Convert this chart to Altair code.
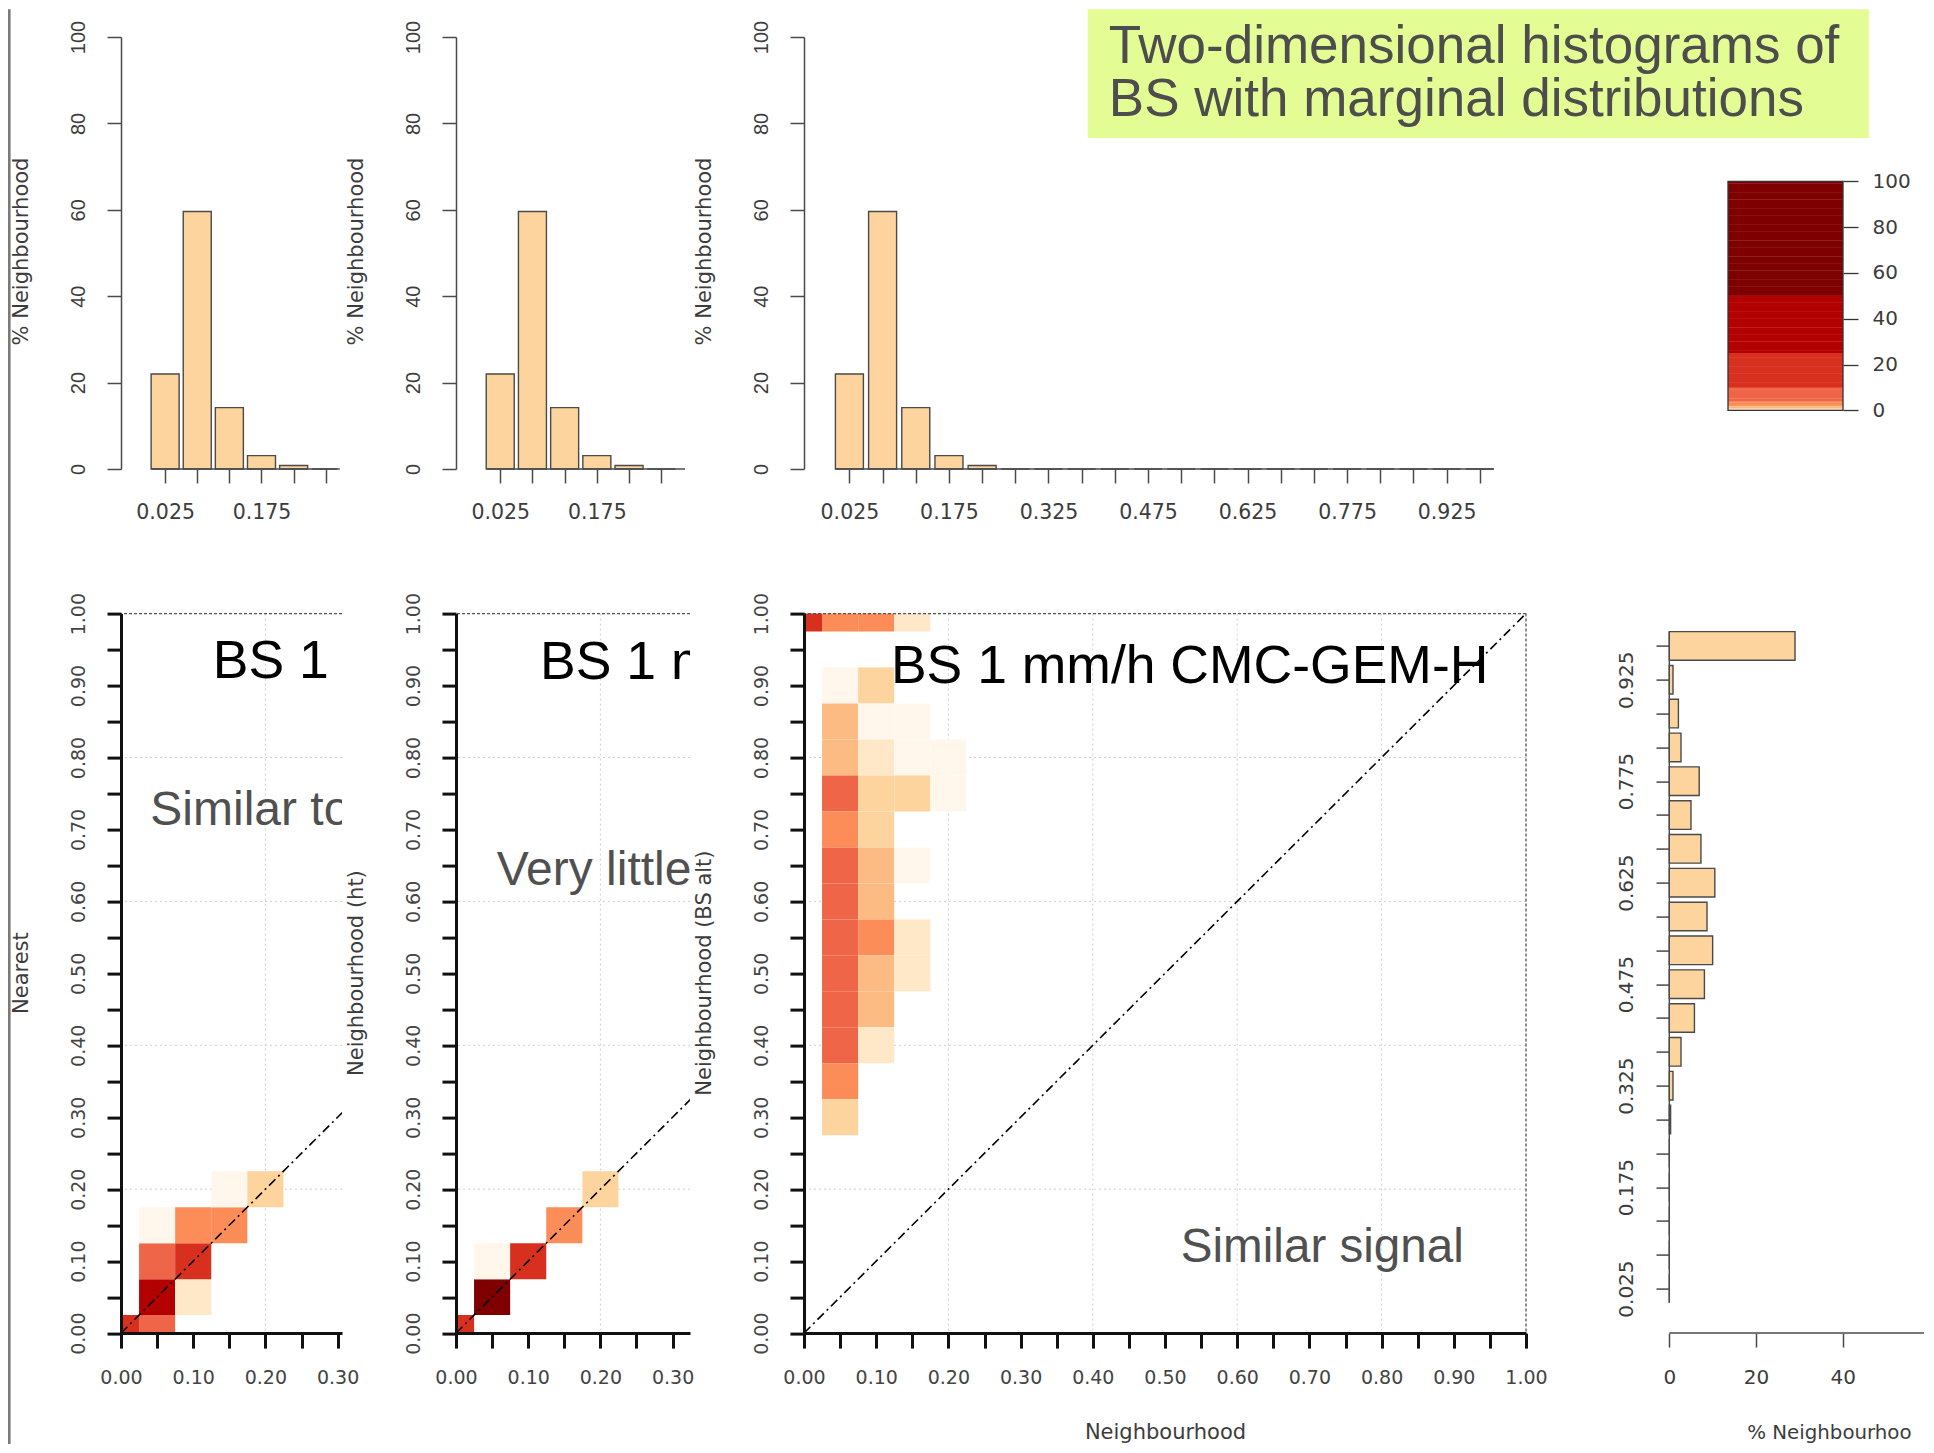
import json
import altair as alt
import pandas as pd

# ---------------- data ----------------
BIN_CENTERS = [0.025, 0.075, 0.125, 0.175, 0.225, 0.275, 0.325, 0.375, 0.425, 0.475,
               0.525, 0.575, 0.625, 0.675, 0.725, 0.775, 0.825, 0.875, 0.925, 0.975]
BIN_TICK_LABELS = ["0.025", "0.175", "0.325", "0.475", "0.625", "0.775", "0.925"]
TOP_PCT = [22.0, 59.6, 14.2, 3.1, 0.8, 0, 0, 0, 0, 0, 0, 0, 0, 0, 0, 0, 0, 0, 0, 0]
RIGHT_PCT = [0, 0, 0, 0, 0, 0.3, 0.85, 2.7, 5.8, 8.1, 10.0, 8.7, 10.5, 7.3, 5.0, 6.9, 2.7, 2.1, 0.85, 29.0]
TOP_Y_TICKS = [0, 20, 40, 60, 80, 100]
RIGHT_X_TICKS = [0, 20, 40]
CB_TICKS = [0, 20, 40, 60, 80, 100]
HEAT_TICKS = [0.00, 0.05, 0.10, 0.15, 0.20, 0.25, 0.30, 0.35, 0.40, 0.45, 0.50,
              0.55, 0.60, 0.65, 0.70, 0.75, 0.80, 0.85, 0.90, 0.95, 1.00]
GRID_VALS = [0.2, 0.4, 0.6, 0.8]
DIAG = [0.0, 1.0]

BREAKS = [0.25, 0.5, 1, 2, 4, 10, 25, 50]
ORRD = ["#fff7ec", "#fee8c8", "#fdd49e", "#fdbb84", "#fc8d59",
        "#ef6548", "#d7301f", "#b30000", "#7f0000"]
# colour-bar stripes (legend only): fine steps at the low end, unit steps above
CB_LO = [i * 0.25 for i in range(16)] + [float(v) for v in range(4, 100)]
CB_HI = CB_LO[1:] + [100.0]

# 2-D histogram cells: bin centre on x, bin centre on y, percent
P1_X = [0.00, 0.05, 0.05, 0.10, 0.05, 0.10, 0.05, 0.10, 0.15, 0.15, 0.20]
P1_Y = [0.00, 0.00, 0.05, 0.05, 0.10, 0.10, 0.15, 0.15, 0.15, 0.20, 0.20]
P1_PCT = [20, 8, 40, 0.4, 7, 15, 0.15, 3, 3, 0.15, 0.8]

P2_X = [0.00, 0.05, 0.05, 0.10, 0.15, 0.20]
P2_Y = [0.00, 0.05, 0.10, 0.10, 0.15, 0.20]
P2_PCT = [15, 60, 0.2, 18, 3.5, 0.8]

P3_X = [0.00, 0.05, 0.10, 0.15,
        0.05, 0.10,
        0.05, 0.10, 0.15,
        0.05, 0.10, 0.15, 0.20,
        0.05, 0.10, 0.15, 0.20,
        0.05, 0.10,
        0.05, 0.10, 0.15,
        0.05, 0.10,
        0.05, 0.10, 0.15,
        0.05, 0.10, 0.15,
        0.05, 0.10,
        0.05, 0.10,
        0.05,
        0.05]
P3_Y = [1.00, 1.00, 1.00, 1.00,
        0.90, 0.90,
        0.85, 0.85, 0.85,
        0.80, 0.80, 0.80, 0.80,
        0.75, 0.75, 0.75, 0.75,
        0.70, 0.70,
        0.65, 0.65, 0.65,
        0.60, 0.60,
        0.55, 0.55, 0.55,
        0.50, 0.50, 0.50,
        0.45, 0.45,
        0.40, 0.40,
        0.35,
        0.30]
P3_PCT = [18, 3.5, 3.5, 0.4,
          0.15, 0.7,
          1.5, 0.15, 0.15,
          1.5, 0.3, 0.15, 0.15,
          5, 0.7, 0.7, 0.15,
          3, 0.7,
          6, 1.5, 0.15,
          7, 1.5,
          7, 2.5, 0.3,
          7, 1.5, 0.3,
          6, 1.5,
          5, 0.3,
          2.5,
          0.7]

TITLE_LINES = ["Two-dimensional histograms of", "BS with marginal distributions"]
PANEL_TITLE = "BS 1 mm/h CMC-GEM-H"
NOTES = ["Similar to", "Very little", "Similar signal"]
Y_TITLES = ["Nearest", "Neighbourhood (ht)", "Neighbourhood (BS alt)"]
X_TITLE = "Neighbourhood"
HIST_TITLE = "% Neighbourhood"
RIGHT_X_TITLE = "% Neighbourhoo"

# ---------------- styling / layout ----------------
TICK_FONT = "DejaVu Sans"
SANS = "Liberation Sans"
INK = "#3c3c3c"
NOTE_INK = "#505050"
EDGE = "#4a4a4a"
AX = "#111111"
BAR_FILL = "#FDD49E"
TITLE_SIZE = 21

W1, W2, W3 = 221, 234, 722
W_CB, W_RH = 203, 284
H_TOP, H_BOT = 432, 719.5

PX_TOP = 672.9
TOP_X0 = -0.0359
HALF_BAR = 14 / PX_TOP
PX_HEAT = float(W3)

RH_PX = 4.335
RH_X0 = -29.3 / RH_PX
RH_XMAX = RH_X0 + W_RH / RH_PX
RH_Y1 = 1.0154
RH_Y0 = RH_Y1 - H_BOT / 686.0
RH_HALF = 14.3 / 686.0

COLOR_SCALE = alt.Scale(type="threshold", domain=BREAKS, range=ORRD)
ONE = pd.DataFrame({"k": [0]})

bin_expr = ("indexof(%s, format(datum.value, '.3f')) >= 0 ? format(datum.value, '.3f') : ''"
            % json.dumps(BIN_TICK_LABELS))
heat_expr = "round(datum.value * 100) % 10 == 0 ? format(datum.value, '.2f') : ''"


def top_hist(width, extra=()):
    xmax = TOP_X0 + width / PX_TOP
    idx = [i for i, c in enumerate(BIN_CENTERS) if c < xmax]
    df = pd.DataFrame({"c": [BIN_CENTERS[i] for i in idx], "pct": [TOP_PCT[i] for i in idx]})
    xs = alt.Scale(domain=[TOP_X0, xmax], nice=False, zero=False)
    ys = alt.Scale(domain=[0, 100], nice=False, zero=False)
    xaxis = alt.Axis(values=list(df["c"]), labelExpr=bin_expr, domain=False, grid=False,
                     tickSize=14, tickWidth=1.5, tickColor=EDGE, labelFont=TICK_FONT,
                     labelFontSize=20.5, labelColor=INK, labelPadding=29, labelAngle=0,
                     labelAlign="center", labelBaseline="middle", labelFlush=False,
                     labelOverlap=False, title=None)
    yaxis = alt.Axis(values=TOP_Y_TICKS, domain=True, domainColor=EDGE, domainWidth=1.5, grid=False,
                     tickSize=14, tickWidth=1.5, tickColor=EDGE, labelFont=SANS, labelFontSize=20,
                     labelColor=INK, labelPadding=29, labelAngle=270, labelAlign="center",
                     labelBaseline="middle", labelFlush=False, labelOverlap=False,
                     title=HIST_TITLE, titleX=-100, titleY=214, titleAngle=270, titleAlign="center",
                     titleBaseline="middle", titleFont=TICK_FONT, titleFontSize=TITLE_SIZE,
                     titleFontWeight="normal", titleColor=INK)
    bars = alt.Chart(df).mark_bar(orient="vertical", size=28, fill=BAR_FILL, stroke=EDGE,
                                  strokeWidth=1.4).encode(
        x=alt.X("c:Q", scale=xs, axis=xaxis),
        y=alt.Y("pct:Q", scale=ys, axis=yaxis),
        y2=alt.datum(0))
    base = alt.Chart(pd.DataFrame({"a": [BIN_CENTERS[0] - HALF_BAR],
                                   "b": [min(xmax, BIN_CENTERS[-1] + HALF_BAR)]})).mark_rule(
        color=EDGE, strokeWidth=1.4).encode(
        x=alt.X("a:Q", scale=xs, axis=xaxis), x2="b:Q", y=alt.datum(0))
    return alt.layer(bars, base, *extra).properties(width=width, height=H_TOP)


def heat(xs_, ys_, vals, width, ytitle, xtitle, texts, right_border=False):
    xmax = width / PX_HEAT
    xsc = alt.Scale(domain=[0, xmax], nice=False, zero=False)
    ysc = alt.Scale(domain=[0, 1], nice=False, zero=False)
    xvals = [v for v in HEAT_TICKS if v <= xmax + 1e-9]
    common = dict(domain=True, domainWidth=3, domainColor=AX, grid=False, tickWidth=3,
                  tickColor=AX, labelFont=TICK_FONT, labelFontSize=19, labelColor="#444444",
                  labelFlush=False, labelOverlap=False, labelExpr=heat_expr, zindex=1,
                  titleFont=TICK_FONT, titleFontSize=TITLE_SIZE, titleFontWeight="normal",
                  titleColor=INK)
    if xtitle:
        xaxis = alt.Axis(values=xvals, tickSize=15, labelPadding=29, labelAngle=0,
                         labelAlign="center", labelBaseline="middle", title=xtitle,
                         titleX=width / 2, titleY=99, titleAlign="center",
                         titleBaseline="middle", **common)
    else:
        xaxis = alt.Axis(values=xvals, tickSize=15, labelPadding=29, labelAngle=0,
                         labelAlign="center", labelBaseline="middle", title=None, **common)
    yaxis = alt.Axis(values=HEAT_TICKS, tickSize=14, labelPadding=29, labelAngle=270,
                     labelAlign="center", labelBaseline="middle", title=ytitle, titleX=-100,
                     titleY=359, titleAngle=270, titleAlign="center", titleBaseline="middle",
                     **common)
    df = pd.DataFrame({"x": xs_, "y": ys_, "pct": vals})
    hgrid = alt.Chart(pd.DataFrame({"g": GRID_VALS})).mark_rule(
        clip=True, color="#cfcfcf", strokeDash=[2, 3], strokeWidth=1).encode(
        y=alt.Y("g:Q", scale=ysc, axis=yaxis))
    vgrid = alt.Chart(pd.DataFrame({"g": [g for g in GRID_VALS if g < xmax]})).mark_rule(
        clip=True, color="#cfcfcf", strokeDash=[2, 3], strokeWidth=1).encode(
        x=alt.X("g:Q", scale=xsc, axis=xaxis))
    cells = alt.Chart(df).transform_calculate(
        xa="datum.x - 0.025", xb="datum.x + 0.025",
        ya="datum.y - 0.025", yb="datum.y + 0.025").mark_rect(clip=True).encode(
        x=alt.X("xa:Q", scale=xsc, axis=xaxis), x2="xb:Q",
        y=alt.Y("ya:Q", scale=ysc, axis=yaxis), y2="yb:Q",
        color=alt.Color("pct:Q", scale=COLOR_SCALE, legend=None))
    top = alt.Chart(pd.DataFrame({"g": [1.0]})).mark_rule(
        color="#555555", strokeDash=[3, 2], strokeWidth=1.3).encode(
        y=alt.Y("g:Q", scale=ysc, axis=yaxis))
    diag = alt.Chart(pd.DataFrame({"d": DIAG})).mark_line(
        clip=True, color="black", strokeWidth=1.6, strokeDash=[9, 4, 2, 4]).encode(
        x=alt.X("d:Q", scale=xsc, axis=xaxis), y=alt.Y("d:Q", scale=ysc, axis=yaxis))
    layers = [hgrid, vgrid, cells, top, diag]
    if right_border:
        layers.append(alt.Chart(pd.DataFrame({"g": [1.0]})).mark_rule(
            color="#555555", strokeDash=[3, 2], strokeWidth=1.3).encode(
            x=alt.X("g:Q", scale=xsc, axis=xaxis)))
    for txt, xpx, ypx, size, col in texts:
        layers.append(alt.Chart(pd.DataFrame({"t": [txt]})).mark_text(
            clip=True, align="left", baseline="alphabetic", font=SANS, fontSize=size,
            color=col).encode(x=alt.value(xpx), y=alt.value(ypx), text="t:N"))
    return alt.layer(*layers).properties(width=width, height=H_BOT)


# ---- top row ----
gray_edge = alt.Chart(ONE).mark_rule(color="#7a7a7a", strokeWidth=2.6).encode(
    x=alt.value(-111.7), y=alt.value(-27.7), y2=alt.value(1407))
title_box = alt.Chart(ONE).mark_rect(fill="#E4FC94").encode(
    x=alt.value(283.8), x2=alt.value(1064.8), y=alt.value(-27.7), y2=alt.value(101))
title_l1 = alt.Chart(pd.DataFrame({"t": [TITLE_LINES[0]]})).mark_text(
    align="left", baseline="alphabetic", font=SANS, fontSize=53, color="#4d4d4d").encode(
    x=alt.value(304.8), y=alt.value(26), text="t:N")
title_l2 = alt.Chart(pd.DataFrame({"t": [TITLE_LINES[1]]})).mark_text(
    align="left", baseline="alphabetic", font=SANS, fontSize=53, color="#4d4d4d").encode(
    x=alt.value(304.8), y=alt.value(79.3), text="t:N")

p1top = top_hist(W1, extra=[gray_edge])
p2top = top_hist(W2)
p3top = top_hist(W3, extra=[title_box, title_l1, title_l2])

cb_df = pd.DataFrame({"lo": CB_LO, "hi": CB_HI})
cb_scale = alt.Scale(domain=[0, 100], range=[373.3, 144.3], nice=False, zero=False)
cb_axis = alt.Axis(orient="right", values=CB_TICKS, domain=False, grid=False, tickSize=15,
                   tickWidth=1.3, tickColor="#333333", labelFont=TICK_FONT, labelFontSize=20,
                   labelColor=INK, labelPadding=14, labelAlign="left", labelBaseline="middle",
                   labelFlush=False, labelOverlap=False, title=None)
cb_rects = alt.Chart(cb_df).transform_calculate(
    top="min(datum.hi + 0.2, 100)", mid="(datum.lo + datum.hi) / 2").mark_rect().encode(
    x=alt.value(88), x2=alt.value(W_CB),
    y=alt.Y("lo:Q", scale=cb_scale, axis=cb_axis), y2="top:Q",
    color=alt.Color("mid:Q", scale=COLOR_SCALE, legend=None))
cb_frame = alt.Chart(ONE).mark_rect(fillOpacity=0, stroke="#333333", strokeWidth=1.3).encode(
    x=alt.value(88), x2=alt.value(W_CB), y=alt.datum(0), y2=alt.datum(100))
cbar = alt.layer(cb_rects, cb_frame).properties(width=W_CB, height=H_TOP)

# ---- bottom row ----
p1bot = heat(P1_X, P1_Y, P1_PCT, W1, Y_TITLES[0], None,
             [(PANEL_TITLE, 91.7, 64.4, 53.5, "black"), (NOTES[0], 29.3, 211.6, 48, NOTE_INK)])
p2bot = heat(P2_X, P2_Y, P2_PCT, W2, Y_TITLES[1], None,
             [(PANEL_TITLE, 84.1, 65.4, 53.5, "black"), (NOTES[1], 40.7, 271.9, 48, NOTE_INK)])
p3bot = heat(P3_X, P3_Y, P3_PCT, W3, Y_TITLES[2], X_TITLE,
             [(PANEL_TITLE, 86.9, 69.6, 53.5, "black"), (NOTES[2], 376.8, 648.1, 47.6, NOTE_INK)],
             right_border=True)

rh_df = pd.DataFrame({"c": BIN_CENTERS, "pct": RIGHT_PCT})
rh_x = alt.Scale(domain=[RH_X0, RH_XMAX], nice=False, zero=False)
rh_y = alt.Scale(domain=[RH_Y0, RH_Y1], nice=False, zero=False)
rh_yaxis = alt.Axis(values=BIN_CENTERS, labelExpr=bin_expr, offset=-29.3, domain=False,
                    grid=False, tickSize=13.3, tickWidth=1.5, tickColor=EDGE,
                    labelFont=TICK_FONT, labelFontSize=20, labelColor=INK, labelPadding=29.3,
                    labelAngle=270, labelAlign="center", labelBaseline="middle",
                    labelFlush=False, labelOverlap=False, title=None)
rh_xaxis = alt.Axis(values=RIGHT_X_TICKS, domain=False, grid=False, tickSize=14, tickWidth=1.5,
                    tickColor=EDGE, labelFont=TICK_FONT, labelFontSize=20, labelColor=INK,
                    labelPadding=30, labelAngle=0, labelAlign="center", labelBaseline="middle",
                    labelFlush=False, labelOverlap=False, title=RIGHT_X_TITLE, titleX=106.7,
                    titleY=99, titleAlign="left", titleBaseline="middle", titleAngle=0,
                    titleFont=TICK_FONT, titleFontSize=19.8, titleFontWeight="normal",
                    titleColor=INK)
rh_bars = alt.Chart(rh_df).mark_bar(orient="horizontal", size=28.6, fill=BAR_FILL, stroke=EDGE,
                                    strokeWidth=1.4).encode(
    y=alt.Y("c:Q", scale=rh_y, axis=rh_yaxis),
    x=alt.X("pct:Q", scale=rh_x, axis=rh_xaxis),
    x2=alt.datum(0))
rh_yline = alt.Chart(pd.DataFrame({"a": [BIN_CENTERS[0] - RH_HALF],
                                   "b": [BIN_CENTERS[-1] + RH_HALF]})).mark_rule(
    color=EDGE, strokeWidth=1.4).encode(
    x=alt.datum(0), y=alt.Y("a:Q", scale=rh_y, axis=rh_yaxis), y2="b:Q")
rh_xline = alt.Chart(pd.DataFrame({"a": [0], "b": [RH_XMAX]})).mark_rule(
    color=EDGE, strokeWidth=1.5).encode(
    x=alt.X("a:Q", scale=rh_x, axis=rh_xaxis), x2="b:Q", y=alt.value(H_BOT))
rhist = alt.layer(rh_bars, rh_yline, rh_xline).properties(width=W_RH, height=H_BOT)

chart = alt.concat(
    p1top, p2top, p3top, cbar,
    p1bot, p2bot, p3bot, rhist,
    columns=4, spacing={"row": 144.6, "column": 114}, bounds="flush", align="each",
).properties(padding=0, background="white").configure_view(stroke=None)

chart.save("out.html", embed_options={"renderer": "svg", "actions": False})
